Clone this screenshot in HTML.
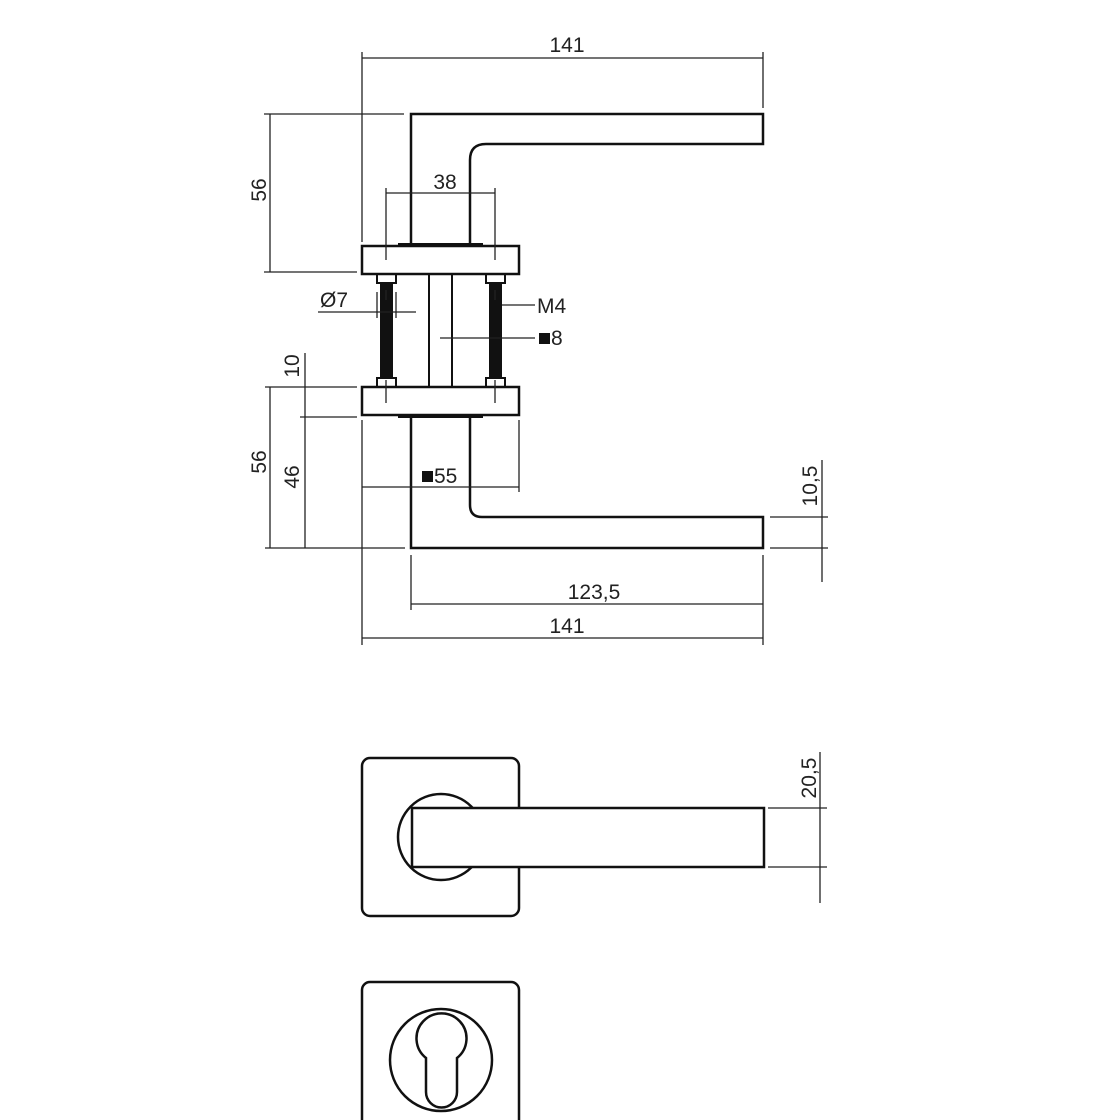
<!DOCTYPE html>
<html><head><style>body{margin:0;background:#fff}svg{display:block}text{font-family:"Liberation Sans",sans-serif;font-size:21px;fill:#222}</style></head><body>
<svg width="1120" height="1120" viewBox="0 0 1120 1120" xmlns="http://www.w3.org/2000/svg">
<g stroke="#111" fill="none">
<!-- top handle -->
<path d="M411 246 V114 H763 V144 H486 Q470 144 470 160 V246" stroke-width="2.5"/>
<line x1="398" y1="245" x2="483" y2="245" stroke-width="4"/>
<!-- rosettes -->
<rect x="362" y="246" width="157" height="28" stroke-width="2.5"/>
<rect x="362" y="387" width="157" height="28" stroke-width="2.5"/>
<line x1="398" y1="416" x2="483" y2="416" stroke-width="4"/>
<!-- bottom handle -->
<path d="M411 415 V548 H763 V517 H482 Q470 517 470 505 V415" stroke-width="2.5"/>
<!-- spindle -->
<line x1="429" y1="274" x2="429" y2="387" stroke-width="2"/>
<line x1="452" y1="274" x2="452" y2="387" stroke-width="2"/>
<!-- nuts -->
<rect x="377" y="274" width="19" height="9" stroke-width="2"/>
<rect x="486" y="274" width="19" height="9" stroke-width="2"/>
<rect x="377" y="378" width="19" height="9" stroke-width="2"/>
<rect x="486" y="378" width="19" height="9" stroke-width="2"/>
</g>
<rect x="380" y="283" width="13" height="95" fill="#111"/>
<rect x="489" y="283" width="13" height="95" fill="#111"/>
<g stroke="#222" stroke-width="1.3" fill="none">
<!-- 141 top -->
<line x1="362" y1="52" x2="362" y2="242"/><line x1="763" y1="52" x2="763" y2="108"/>
<line x1="362" y1="58" x2="763" y2="58"/>
<!-- 56 top -->
<line x1="270" y1="114" x2="270" y2="272"/><line x1="264" y1="114" x2="404" y2="114"/><line x1="264" y1="272" x2="357" y2="272"/>
<!-- 38 -->
<line x1="386" y1="188" x2="386" y2="260"/><line x1="495" y1="188" x2="495" y2="260"/><line x1="386" y1="193" x2="495" y2="193"/>
<line x1="386" y1="290" x2="386" y2="300"/><line x1="495" y1="290" x2="495" y2="300"/>
<line x1="386" y1="380" x2="386" y2="403"/><line x1="495" y1="380" x2="495" y2="403"/>
<!-- Ø7 -->
<line x1="318" y1="312" x2="416" y2="312"/><line x1="377" y1="292" x2="377" y2="318"/><line x1="396" y1="292" x2="396" y2="318"/>
<!-- M4 / 8 -->
<line x1="502" y1="305" x2="535" y2="305"/><line x1="440" y1="338" x2="535" y2="338"/>
<!-- 10 / 46 / 56 bottom -->
<line x1="305" y1="353" x2="305" y2="548"/><line x1="265" y1="387" x2="357" y2="387"/><line x1="300" y1="417" x2="357" y2="417"/>
<line x1="270" y1="387" x2="270" y2="548"/><line x1="265" y1="548" x2="405" y2="548"/>
<!-- 55 -->
<line x1="362" y1="420" x2="362" y2="645"/><line x1="519" y1="420" x2="519" y2="492"/><line x1="362" y1="487" x2="519" y2="487"/>
<!-- 10,5 -->
<line x1="822" y1="460" x2="822" y2="582"/><line x1="770" y1="517" x2="828" y2="517"/><line x1="770" y1="548" x2="828" y2="548"/>
<!-- 123,5 -->
<line x1="411" y1="555" x2="411" y2="610"/><line x1="763" y1="555" x2="763" y2="645"/><line x1="411" y1="604" x2="763" y2="604"/>
<line x1="362" y1="638" x2="763" y2="638"/>
<!-- 20,5 -->
<line x1="820" y1="752" x2="820" y2="903"/><line x1="768" y1="808" x2="827" y2="808"/><line x1="768" y1="867" x2="827" y2="867"/>
</g>
<!-- front view -->
<g stroke="#111" stroke-width="2.5" fill="none">
<rect x="362" y="758" width="157" height="158" rx="8"/>
<circle cx="441" cy="837" r="43"/>
<rect x="412" y="808" width="352" height="59" fill="#fff"/>
<rect x="362" y="982" width="157" height="160" rx="8"/>
<circle cx="441" cy="1060" r="51"/>
<path d="M426 1058 A25 25 0 1 1 457 1058 V1092 A15.5 15.5 0 0 1 426 1092 Z"/>
</g>
<text x="567" y="52" text-anchor="middle">141</text>
<text x="445" y="189" text-anchor="middle">38</text>
<text x="320" y="307">Ø7</text>
<text x="537" y="313">M4</text>
<rect x="539" y="333" width="11" height="11" fill="#111"/><text x="551" y="345">8</text>
<rect x="422" y="471" width="11" height="11" fill="#111"/><text x="434" y="483">55</text>
<text x="594" y="599" text-anchor="middle">123,5</text>
<text x="567" y="633" text-anchor="middle">141</text>
<text transform="translate(266,190) rotate(-90)" text-anchor="middle">56</text>
<text transform="translate(266,462) rotate(-90)" text-anchor="middle">56</text>
<text transform="translate(299,366) rotate(-90)" text-anchor="middle">10</text>
<text transform="translate(299,477) rotate(-90)" text-anchor="middle">46</text>
<text transform="translate(817,486) rotate(-90)" text-anchor="middle">10,5</text>
<text transform="translate(816,778) rotate(-90)" text-anchor="middle">20,5</text>
</svg>
</body></html>
